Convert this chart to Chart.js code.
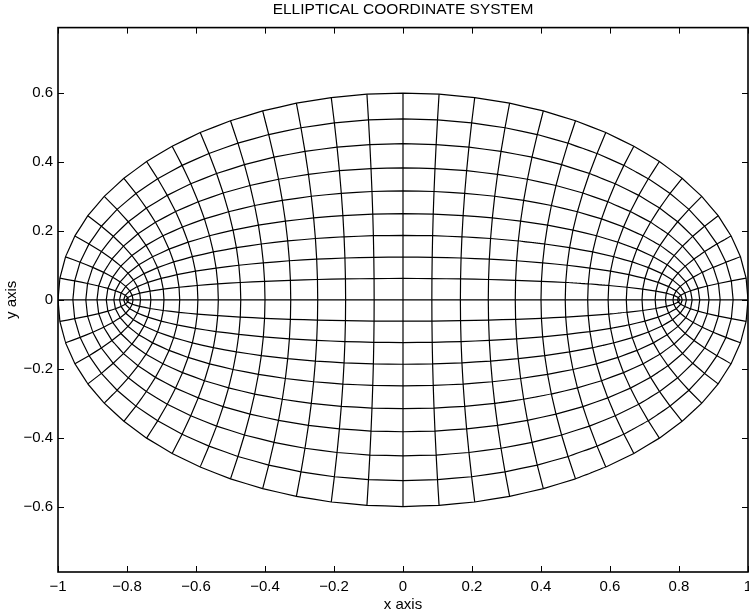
<!DOCTYPE html>
<html>
<head>
<meta charset="utf-8">
<script src="https://cdn.jsdelivr.net/npm/chart.js@4"></script>
<style>
  body { margin: 0; background: #fff; }
  canvas { display: block; }
</style>
</head>
<body>
<canvas id="grid" width="749" height="616"></canvas>
<script>
// Distance of the foci from the origin
const FOCUS = 0.8;
// Semi-minor axes of the confocal ellipses, read where they cross x = 0
const ellipseB = [0, 0.062, 0.124, 0.187, 0.25, 0.316, 0.383, 0.453, 0.525, 0.6];
// Angles (degrees) of the hyperbola branches, read along the outer ellipse
const hyperbolaDeg = [0, 6, 12, 18, 24, 30, 36, 42, 48, 54, 60, 66, 72, 78, 84,
    90, 96, 102, 108, 114, 120, 126, 132, 138, 144, 150, 156, 162, 168, 174,
    180, 186, 192, 198, 204, 210, 216, 222, 228, 234, 240, 246, 252, 258, 264,
    270, 276, 282, 288, 294, 300, 306, 312, 318, 324, 330, 336, 342, 348, 354];
// Tick labels
const xTicks = [-1, -0.8, -0.6, -0.4, -0.2, 0, 0.2, 0.4, 0.6, 0.8, 1];
const yTicks = [-0.6, -0.4, -0.2, 0, 0.2, 0.4, 0.6];

// kill float noise like cos(270deg) = -1.8e-16
function snap(v) {
    return Math.abs(v) < 1e-12 ? 0 : v;
}

// grid node for a given ellipse (semi-minor b) and hyperbola angle
function node(b, deg) {
    const a = Math.sqrt(b * b + FOCUS * FOCUS);
    const t = deg * Math.PI / 180;
    return { x: snap(a * Math.cos(t)), y: snap(b * Math.sin(t)) };
}

const datasets = [];
ellipseB.forEach(b => {
    const pts = hyperbolaDeg.map(d => node(b, d));
    pts.push(node(b, hyperbolaDeg[0]));
    datasets.push({ data: pts });
});
hyperbolaDeg.forEach(d => {
    datasets.push({ data: ellipseB.map(b => node(b, d)) });
});
datasets.forEach(ds => {
    ds.showLine = true;
    ds.borderColor = '#000';
    ds.borderWidth = 1.2;
    ds.pointRadius = 0;
    ds.fill = false;
    // tiny tension keeps Chart.js off its fast path, which squashes
    // nearly vertical segments into pixel columns
    ds.tension = 0.000001;
});

function fmt(v) {
    if (v === 0) return '0';
    return (v < 0 ? '\u2212' : '') + String(Math.abs(v));
}

// MATLAB style box with inward tick marks
const frameTicks = {
    id: 'frameTicks',
    afterDatasetsDraw(chart) {
        const { ctx, chartArea: a, scales: { x, y } } = chart;
        ctx.save();
        ctx.strokeStyle = '#000';
        ctx.lineWidth = 1;
        ctx.beginPath();
        xTicks.forEach(v => {
            const px = Math.round(x.getPixelForValue(v)) + 0.5;
            ctx.moveTo(px, a.bottom); ctx.lineTo(px, a.bottom - 6);
            ctx.moveTo(px, a.top); ctx.lineTo(px, a.top + 6);
        });
        yTicks.forEach(v => {
            const py = Math.round(y.getPixelForValue(v)) + 0.5;
            ctx.moveTo(a.left, py); ctx.lineTo(a.left + 6, py);
            ctx.moveTo(a.right, py); ctx.lineTo(a.right - 6, py);
        });
        ctx.stroke();
        ctx.lineWidth = 1.6;
        ctx.strokeRect(a.left, a.top, a.right - a.left, a.bottom - a.top);
        ctx.restore();
    }
};

Chart.defaults.font.family = '"Liberation Sans", Arial, Helvetica, sans-serif';
Chart.defaults.font.size = 15;
Chart.defaults.color = '#000';

new Chart(document.getElementById('grid').getContext('2d'), {
    type: 'scatter',
    data: { datasets: datasets },
    options: {
        responsive: false,
        animation: false,
        layout: { padding: { top: 0, right: 1, bottom: 0, left: 0 } },
        plugins: {
            legend: { display: false },
            tooltip: { enabled: false },
            title: {
                display: true,
                text: 'ELLIPTICAL COORDINATE SYSTEM',
                fullSize: false,
                color: '#000',
                font: { size: 15.5, weight: 'normal' },
                padding: { top: 0, bottom: 9 }
            }
        },
        scales: {
            x: {
                type: 'linear',
                position: 'bottom',
                min: -1,
                max: 1,
                grid: { display: false, drawTicks: false },
                border: { display: false },
                ticks: { padding: 6, maxRotation: 0, autoSkip: false, callback: fmt },
                title: { display: true, text: 'x axis', padding: { top: 0, bottom: 2 } },
                afterBuildTicks: s => { s.ticks = xTicks.map(v => ({ value: v })); },
                afterFit: s => { s.height = 44; s.paddingLeft = 0; s.paddingRight = 0; }
            },
            y: {
                type: 'linear',
                min: -0.79,
                max: 0.79,
                grid: { display: false, drawTicks: false },
                border: { display: false },
                ticks: { padding: 5, autoSkip: false, callback: fmt },
                title: { display: true, text: 'y axis', padding: { top: 3, bottom: 0 } },
                afterBuildTicks: s => { s.ticks = yTicks.map(v => ({ value: v })); },
                afterFit: s => { s.width = 58; s.paddingTop = 0; s.paddingBottom = 0; }
            }
        }
    },
    plugins: [frameTicks]
});
</script>
</body>
</html>
